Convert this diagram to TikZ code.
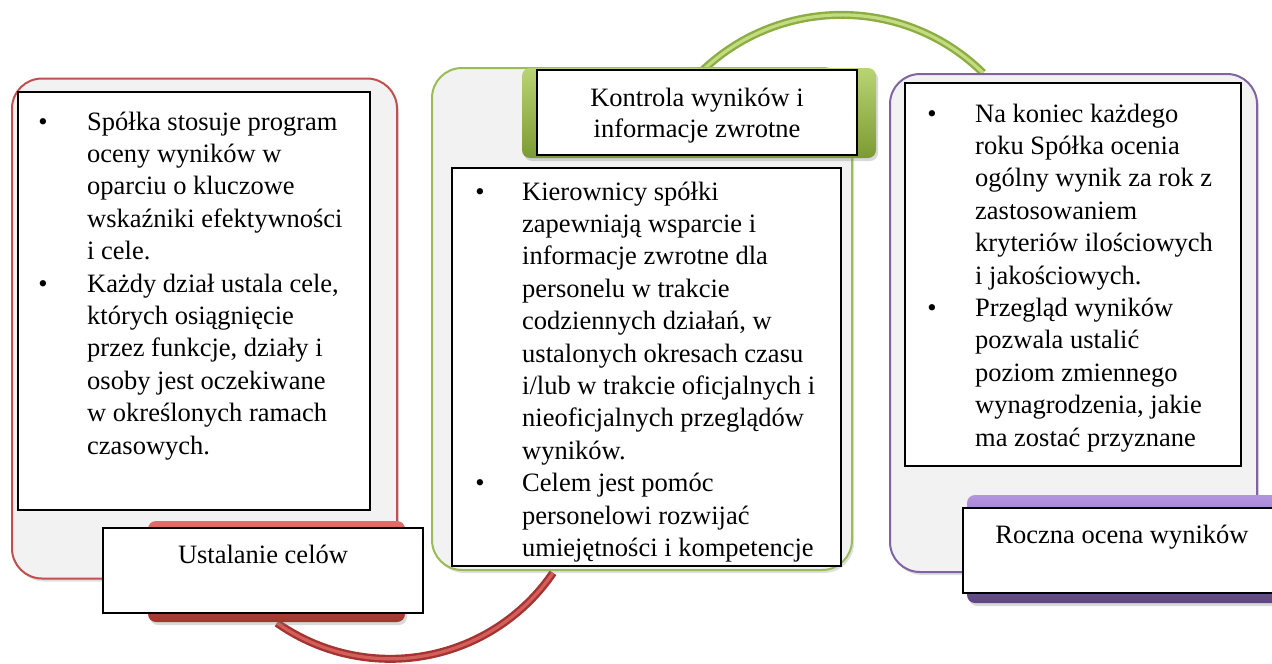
\documentclass[tikz,border=0pt]{standalone}
\usepackage{fontspec}
\setmainfont{Liberation Serif}
\usetikzlibrary{shadows}
\definecolor{panelgray}{HTML}{F2F2F2}
\definecolor{redline}{HTML}{C0504D}
\definecolor{greenline}{HTML}{9BBB59}
\definecolor{purpleline}{HTML}{8064A2}
\definecolor{redtop}{HTML}{E46C69}
\definecolor{redbot}{HTML}{A3372F}
\definecolor{greentop}{HTML}{B9D474}
\definecolor{greenbot}{HTML}{7C9A34}
\definecolor{purpletop}{HTML}{B494E0}
\definecolor{purplebot}{HTML}{5E4683}
\definecolor{reddark}{HTML}{A33431}
\definecolor{redlight}{HTML}{D65E5A}
\definecolor{greendark}{HTML}{8CAD44}
\definecolor{greenlight}{HTML}{C4DC80}
\newcommand{\bodyfont}{\fontsize{26.5}{32.4}\selectfont}
\newcommand{\para}[2]{\parbox[t]{#1}{\bodyfont\raggedright #2}}
\begin{document}
\begin{tikzpicture}[x=1pt,y=-1pt,
  panel/.style={draw=#1, line width=2pt, fill=panelgray, rounded corners=30pt,
    drop shadow={opacity=0.25, shadow xshift=2pt, shadow yshift=-3pt}},
  innerbox/.style={draw=black, line width=1.6pt, fill=white},
  tab/.style 2 args={draw=none, top color=#1, bottom color=#2, rounded corners=8pt,
    drop shadow={opacity=0.3, shadow xshift=2pt, shadow yshift=-3pt}},
  tabtext/.style={draw=black, line width=1.6pt, fill=white},
  tube/.style 2 args={draw=#1, double=#2, line width=2.4pt, double distance=3.2pt},
  txt/.style={inner sep=0pt, anchor=base west, font=\bodyfont},
  bul/.style={inner sep=0pt, anchor=base, font=\bodyfont},
  label/.style={inner sep=0pt, anchor=base, font=\bodyfont, align=center}
]
\useasboundingbox (0,0) rectangle (1272,664);

% connectors (arcs)
\coordinate (ra) at (277,623);
\coordinate (ga) at (703,70);
\draw[tube={reddark}{redlight}] (ra) arc[start angle=234.9, end angle=325.7, radius=197pt] coordinate (rb);
\draw[tube={greendark}{greenlight}] (ga) arc[start angle=133.4, end angle=45.4, radius=201.6pt] coordinate (gb);

% panels
\node[panel=redline, minimum width=385pt, minimum height=500pt] (P1) at (204.5,328.5) {};
\node[panel=greenline, minimum width=420pt, minimum height=502pt] (P2) at (642,319) {};
\node[panel=purpleline, minimum width=367pt, minimum height=498pt] (P3) at (1073.5,323) {};

% inner text boxes
\node[innerbox, minimum width=352pt, minimum height=418pt] (I1) at (194,301) {};
\node[innerbox, minimum width=389pt, minimum height=398pt] (I2) at (646.5,367) {};
\node[innerbox, minimum width=336pt, minimum height=383pt] (I3) at (1073,274.5) {};

% tabs
\node[tab={redtop}{redbot}, minimum width=257pt, minimum height=101pt] (T1) at (276.5,571.5) {};
\node[tabtext, minimum width=320pt, minimum height=85pt] (W1) at (263,570.5) {};
\node[tab={greentop}{greenbot}, minimum width=354pt, minimum height=90pt] (T2) at (699,113) {};
\node[tabtext, minimum width=320pt, minimum height=85pt] (W2) at (697,112.5) {};
\node[tab={purpletop}{purplebot}, minimum width=323pt, minimum height=108pt] (T3) at (1128.5,549) {};
\node[tabtext, minimum width=327pt, minimum height=85pt] (W3) at (1126.5,550.5) {};

% tab labels
\node[label] (L1) at (263,563) {Ustalanie celów};
\node[label] (L2) at (697,137) {Kontrola wyników i\\[-1.4pt]informacje zwrotne};
\node[label] (L3) at (1122,543) {Roczna ocena wyników};

% left texts
\node[bul] (b11) at (43,130) {•};
\node[txt] (t11) at (87,130) {\para{300pt}{Spółka stosuje program\\oceny wyników w\\oparciu o kluczowe\\wskaźniki efektywności\\i cele.}};
\node[bul] (b12) at (43,292) {•};
\node[txt] (t12) at (87,292) {\para{300pt}{Każdy dział ustala cele,\\których osiągnięcie\\przez funkcje, działy i\\osoby jest oczekiwane\\w określonych ramach\\czasowych.}};

% middle texts
\node[bul] (b21) at (480,200) {•};
\node[txt] (t21) at (522,200) {\para{320pt}{Kierownicy spółki\\zapewniają wsparcie i\\informacje zwrotne dla\\personelu w trakcie\\codziennych działań, w\\ustalonych okresach czasu\\i/lub w trakcie oficjalnych i\\nieoficjalnych przeglądów\\wyników.}};
\node[bul] (b22) at (480,491.6) {•};
\node[txt] (t22) at (522,491.6) {\para{320pt}{Celem jest pomóc\\personelowi rozwijać\\umiejętności i kompetencje}};

% right texts
\node[bul] (b31) at (932,122) {•};
\node[txt] (t31) at (975,122) {\para{270pt}{Na koniec każdego\\roku Spółka ocenia\\ogólny wynik za rok z\\zastosowaniem\\kryteriów ilościowych\\i jakościowych.}};
\node[bul] (b32) at (932,316.4) {•};
\node[txt] (t32) at (975,316.4) {\para{270pt}{Przegląd wyników\\pozwala ustalić\\poziom zmiennego\\wynagrodzenia, jakie\\ma zostać przyznane}};
\end{tikzpicture}
\end{document}
